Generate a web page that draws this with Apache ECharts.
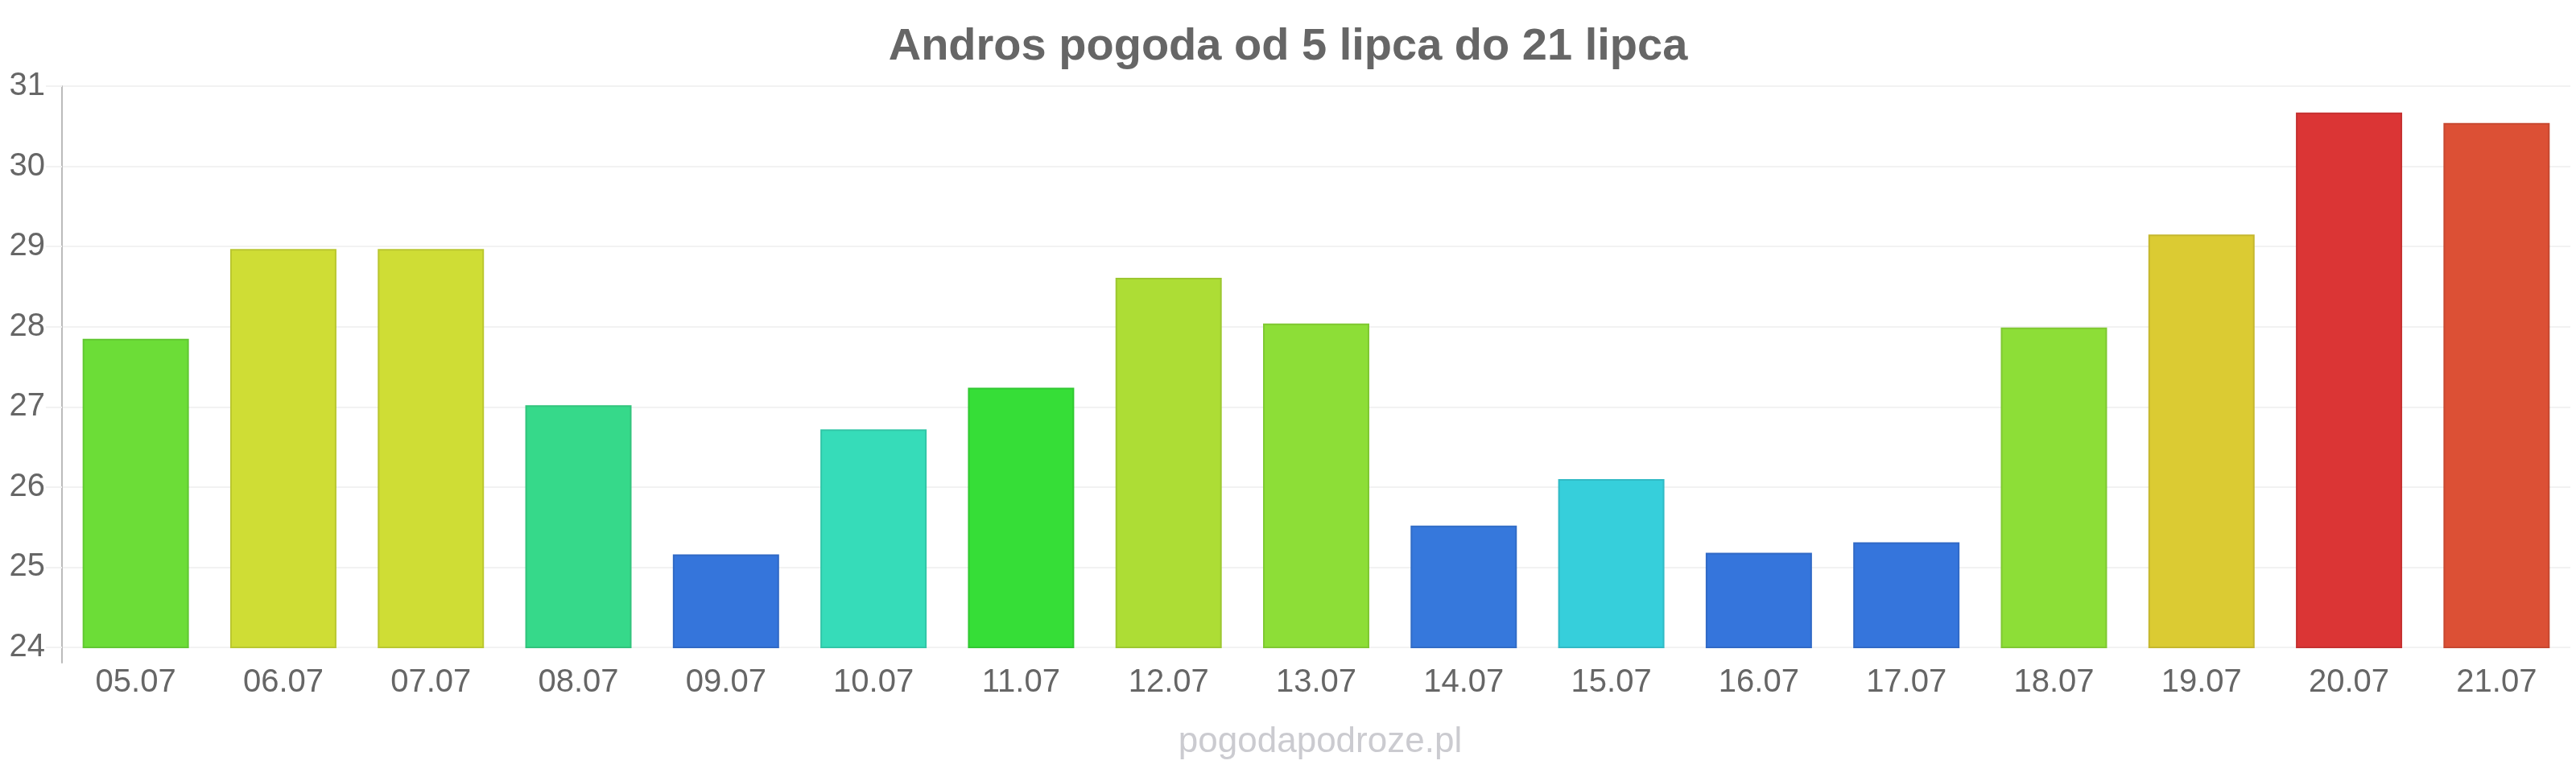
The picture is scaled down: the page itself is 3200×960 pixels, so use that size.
<!DOCTYPE html>
<html>
<head>
<meta charset="utf-8">
<script src="https://cdn.jsdelivr.net/npm/echarts@6/dist/echarts.min.js"></script>
<style>
  html, body { margin: 0; padding: 0; background: #fff; }
  #main { width: 3200px; height: 960px; }
</style>
</head>
<body>
<div id="main"></div>
<script>
// dni (kategorie)
var days = ['05.07', '06.07', '07.07', '08.07', '09.07', '10.07', '11.07', '12.07', '13.07',
  '14.07', '15.07', '16.07', '17.07', '18.07', '19.07', '20.07', '21.07'];
// temperatura
var temps = [27.85, 28.97, 28.97, 27.02, 25.16, 26.72, 27.24, 28.61, 28.04,
  25.52, 26.10, 25.18, 25.31, 27.99, 29.15, 30.67, 30.54];
// kolory słupków
var barColors = ['#6cdd37', '#cfdd35', '#cfdd35', '#36d98a', '#3575db', '#36dcb9', '#36de37', '#addd35', '#8dde37',
  '#3678dc', '#36cfdb', '#3575dc', '#3575dc', '#8dde37', '#dbcb33', '#db3535', '#dc5035'];
var yTicks = [24, 25, 26, 27, 28, 29, 30, 31];

function darker(hex) {
  var n = parseInt(hex.slice(1), 16);
  var r = Math.round(((n >> 16) & 255) * 0.9);
  var g = Math.round(((n >> 8) & 255) * 0.9);
  var b = Math.round((n & 255) * 0.9);
  return 'rgb(' + r + ',' + g + ',' + b + ')';
}

var chart = echarts.init(document.getElementById('main'));

var option = {
  backgroundColor: '#fff',
  animation: false,
  title: [{
    text: 'Andros pogoda od 5 lipca do 21 lipca',
    left: 'center',
    top: 26,
    textStyle: {
      fontFamily: 'Liberation Sans',
      fontSize: 56,
      fontWeight: 'bold',
      color: '#666'
    }
  }, {
    text: 'pogodapodroze.pl',
    left: 1635,
    textAlign: 'center',
    top: 895,
    textStyle: {
      fontFamily: 'Liberation Sans',
      fontSize: 44,
      fontWeight: 'normal',
      color: '#cbcbd0'
    }
  }],
  grid: [{
    left: 77,
    right: 7,
    top: 107,
    bottom: 156
  }, {
    // tylko przedłużenie linii osi Y pod wykresem
    left: 77,
    right: 7,
    top: 107,
    bottom: 137
  }],
  xAxis: [{
    type: 'category',
    data: days,
    axisLine: { show: false },
    axisTick: { show: false },
    axisLabel: {
      margin: 24,
      fontFamily: 'Liberation Sans',
      fontSize: 40,
      color: '#666'
    }
  }, {
    type: 'value',
    gridIndex: 1,
    show: false
  }],
  yAxis: [{
    type: 'value',
    min: yTicks[0],
    max: yTicks[yTicks.length - 1],
    interval: 1,
    axisLine: { show: false },
    axisTick: { show: true, length: 20, lineStyle: { color: '#f2f2f2', width: 2 } },
    splitLine: { show: true, lineStyle: { color: '#f2f2f2', width: 2 } },
    axisLabel: {
      margin: 21,
      fontFamily: 'Liberation Sans',
      fontSize: 40,
      color: '#666'
    }
  }, {
    type: 'value',
    gridIndex: 1,
    min: 0,
    max: 1,
    axisLine: { show: true, lineStyle: { color: '#bbb', width: 2 } },
    axisTick: { show: false },
    axisLabel: { show: false },
    splitLine: { show: false }
  }],
  series: [{
    type: 'bar',
    barCategoryGap: '28%',
    data: temps.map(function (v, i) {
      return {
        value: v,
        itemStyle: {
          color: barColors[i],
          borderColor: darker(barColors[i]),
          borderWidth: 2
        }
      };
    })
  }]
};

chart.setOption(option);
</script>
</body>
</html>
